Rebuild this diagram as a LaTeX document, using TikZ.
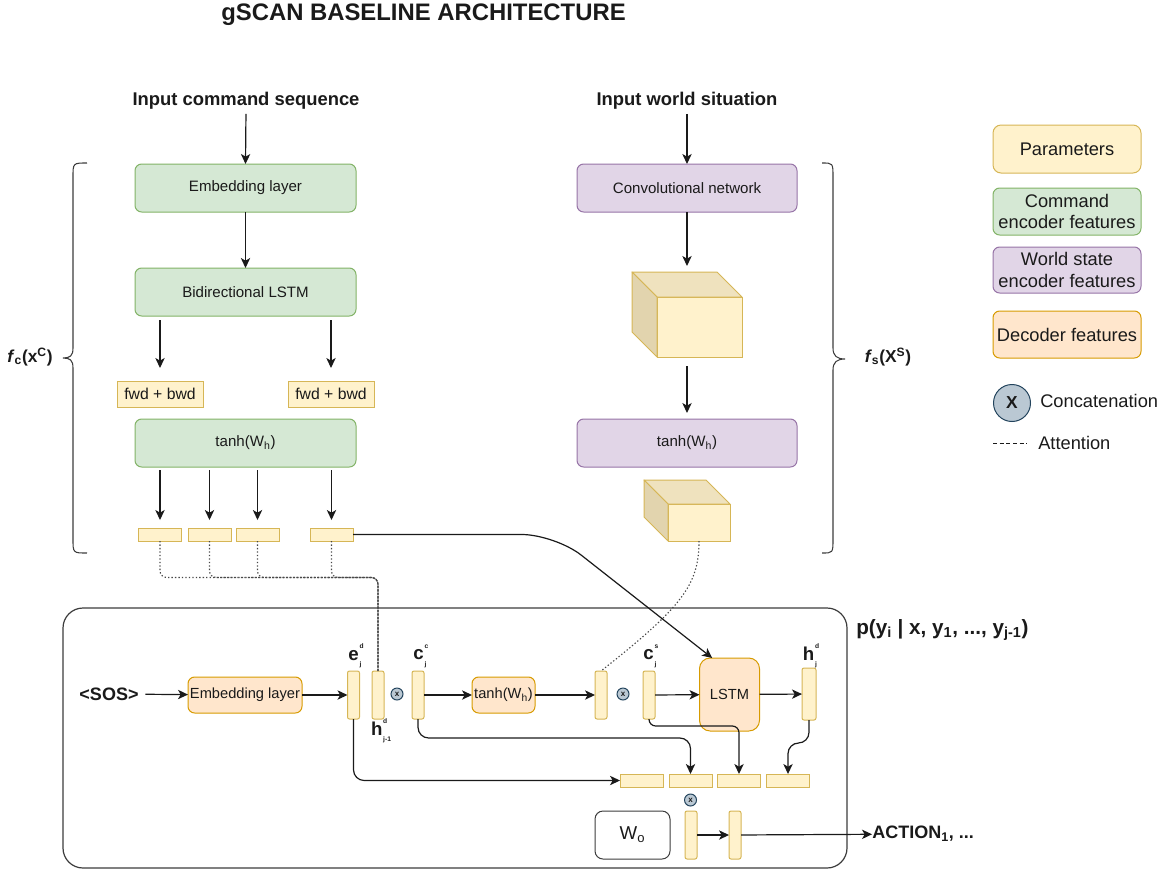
\documentclass[tikz,border=0pt]{standalone}
\usepackage{fontspec}
\setmainfont{Liberation Sans}
\usetikzlibrary{arrows.meta,calc}

\definecolor{ylwF}{HTML}{FFF2CC}\definecolor{ylwD}{HTML}{D6B656}
\definecolor{grnF}{HTML}{D5E8D4}\definecolor{grnD}{HTML}{82B366}
\definecolor{prpF}{HTML}{E1D5E7}\definecolor{prpD}{HTML}{9673A6}
\definecolor{orgF}{HTML}{FFE6CC}\definecolor{orgD}{HTML}{D79B00}
\definecolor{catF}{HTML}{BAC8D3}\definecolor{catD}{HTML}{23445D}
\definecolor{cubeTop}{HTML}{EFE2BE}\definecolor{cubeSide}{HTML}{E2D4AE}
\definecolor{ink}{HTML}{1A1A1A}

\newcommand{\fsz}[2]{\fontsize{#1pt}{#2pt}\selectfont}
% bold letter with a small superscript stacked over a small subscript
\newcommand{\veclab}[3]{\textbf{#1}\kern0.6pt\makebox[0pt][l]{\raisebox{0.62em}{\bfseries\fsz{5}{5}#2}}\raisebox{-0.34em}{\bfseries\fsz{5}{5}#3}}
% top and left faces of a box drawn behind its front face
\newcommand{\cubefaces}[2]{%
  \filldraw[draw=ylwD, fill=cubeTop, line width=0.75pt, line join=round]
    (#1.north west) -- (#1.north east) -- ([shift={(-#2,-#2)}]#1.north east)
    -- ([shift={(-#2,-#2)}]#1.north west) -- cycle;
  \filldraw[draw=ylwD, fill=cubeSide, line width=0.75pt, line join=round]
    (#1.north west) -- ([shift={(-#2,-#2)}]#1.north west)
    -- ([shift={(-#2,-#2)}]#1.south west) -- (#1.south west) -- cycle;}

\tikzset{
  sz/.style 2 args={minimum width=#1*0.75pt, minimum height=#2*0.75pt},
  base/.style={draw, line width=0.75pt, inner sep=0pt, outer sep=0pt, align=center, text=ink},
  gbox/.style={base, fill=grnF, draw=grnD, rounded corners=5pt, font=\fsz{11.3}{13}},
  pbox/.style={base, fill=prpF, draw=prpD, rounded corners=5pt, font=\fsz{11.3}{13}},
  obox/.style={base, fill=orgF, draw=orgD, rounded corners=5pt, font=\fsz{11}{13}},
  ybox/.style={base, fill=ylwF, draw=ylwD},
  vec/.style={ybox, rounded corners=1.5pt, sz={12}{48}},
  hbar/.style={ybox, sz={43}{13}},
  cat/.style={circle, draw=catD, fill=catF, line width=0.75pt, inner sep=0pt,
              minimum size=12*0.75pt, text=ink, font=\bfseries\fsz{6}{6}},
  arr/.style={draw=ink, line width=0.9pt, -{Stealth[length=7.5pt,width=7pt,inset=2pt]}},
  att/.style={draw=ink!80, line width=0.85pt, dash pattern=on 1pt off 1.6pt},
  head/.style={font=\bfseries\fsz{13.8}{16}, text=ink, inner sep=0pt},
  lbl/.style={font=\bfseries\fsz{13}{15}, inner sep=0pt, text=ink},
  legtxt/.style={font=\fsz{13.7}{16}},
}

\begin{document}
\begin{tikzpicture}[x=0.75pt, y=-0.75pt]
\useasboundingbox (0,0) rectangle (1166,875);

% title
\node[font=\bfseries\fsz{17.9}{21}, text=ink, inner sep=0pt] (title) at (423.5,15) {gSCAN BASELINE ARCHITECTURE};

% ---------------- command encoder ----------------
\node[head] (inC) at (246,101) {Input command sequence};
\node[gbox, sz={221}{48}] (emb) at (245.5,188) {Embedding layer};
\node[gbox, sz={221}{48}] (bil) at (245.5,292) {Bidirectional LSTM};
\node[ybox, sz={86}{26}, font=\fsz{11.8}{13}] (fb1) at (160,394) {fwd + bwd};
\node[ybox, sz={86}{26}, font=\fsz{11.8}{13}] (fb2) at (331,394) {fwd + bwd};
\node[gbox, sz={221}{48}] (tc) at (245.5,443) {tanh(W\textsubscript{h})};
\node[hbar] (v1) at (160,534.5) {};
\node[hbar] (v2) at (209.5,534.5) {};
\node[hbar] (v3) at (257.5,534.5) {};
\node[hbar] (v4) at (331.5,534.5) {};

\draw[arr, shorten <=3pt] (inC.south) -- (emb.north);
\draw[arr] (emb) -- (bil);
\draw[arr, shorten <=3pt, shorten >=9.75pt] (bil.south -| fb1) -- (fb1.north);
\draw[arr, shorten <=3pt, shorten >=9.75pt] (bil.south -| fb2) -- (fb2.north);
\foreach \v in {v1,v2,v3,v4}
  \draw[arr, shorten <=2.25pt, shorten >=6pt] (tc.south -| \v) -- (\v.north);

% left brace and its label
\draw[ink!85, line width=0.8pt] (87,163) .. controls (73,163) and (73,163) .. (73,177) -- (73,348)
  .. controls (73,356) and (70,358) .. (63,358) .. controls (70,358) and (73,360) .. (73,368)
  -- (73,539) .. controls (73,553) and (73,553) .. (87,553);
\node[lbl] (fc) at (30,357) {\textit{f}\textsubscript{c}(x\textsuperscript{C})};

% ---------------- world state encoder ----------------
\node[head] (inW) at (687,101) {Input world situation};
\node[pbox, sz={220}{48}] (conv) at (687,188) {Convolutional network};
\node[ybox, sz={85}{60}] (cube1) at (699.5,327) {};
\cubefaces{cube1}{25}
\node[pbox, sz={220}{48}] (ts) at (687,443) {tanh(W\textsubscript{h})};
\node[ybox, sz={62}{37}] (cube2) at (699,522.5) {};
\cubefaces{cube2}{24}

\coordinate (c1b) at ([shift={(-25,-25)}]cube1.north);
\draw[arr, shorten <=3pt] (inW.south) -- (conv.north);
\draw[arr, shorten >=4.5pt] (conv.south) -- (conv.south |- c1b);
\draw[arr, shorten <=7pt, shorten >=4.5pt] (ts.north |- cube1.south) -- (ts.north);

% right brace and its label
\draw[ink!85, line width=0.8pt] (822,163) .. controls (833,163) and (833,163) .. (833,177) -- (833,348)
  .. controls (833,356) and (837,359) .. (845,359) .. controls (837,359) and (833,362) .. (833,370)
  -- (833,539) .. controls (833,553) and (833,553) .. (822,553);
\node[lbl] (fsl) at (888,357) {\textit{f}\textsubscript{s}(X\textsuperscript{S})};

% ---------------- decoder ----------------
\node[base, draw=ink!85, line width=0.9pt, rounded corners=15pt, sz={784}{260}] (dec) at (455,738) {};
\node[lbl, font=\bfseries\fsz{15.5}{18}, anchor=west] (plab) at (856,630)
  {p(y\textsubscript{i} | x, y\textsubscript{1}, ..., y\textsubscript{j-1})};

\node[lbl, font=\bfseries\fsz{13.5}{16}] (sos) at (109,694) {<SOS>};
\node[obox, sz={114}{36}] (demb) at (245,695) {Embedding layer};
\node[vec] (ev) at (353.5,695) {};
\node[vec] (hv) at (378,695) {};
\node[cat] (x1) at (397,694) {x};
\node[vec] (cv) at (418,695) {};
\node[obox, sz={63}{36}] (dt) at (503.5,695) {tanh(W\textsubscript{h})};
\node[vec] (av) at (601,695) {};
\node[cat] (x2) at (623,694) {x};
\node[vec] (sv) at (649,695) {};
\node[obox, sz={60}{73}, rounded corners=8pt] (lstm) at (729.5,694.5) {LSTM};
\node[vec, sz={14}{52}] (hd) at (809,694) {};

\node[lbl, font=\bfseries\fsz{14}{16}] (evl) at (355,656) {\veclab{e}{d}{j}};
\node[lbl, font=\bfseries\fsz{14}{16}] (cvl) at (420,656) {\veclab{c}{c}{j}};
\node[lbl, font=\bfseries\fsz{14}{16}] (svl) at (650,656) {\veclab{c}{s}{j}};
\node[lbl, font=\bfseries\fsz{14}{16}] (hdl) at (810,656) {\veclab{h}{d}{j}};
\node[lbl, font=\bfseries\fsz{14}{16}] (hvl) at (381,731) {\veclab{h}{d}{j-1}};

\node[hbar] (b1) at (641.5,780.5) {};
\node[hbar] (b2) at (690.5,780.5) {};
\node[hbar] (b3) at (739,780.5) {};
\node[hbar] (b4) at (788,780.5) {};
\node[cat] (x3) at (690.5,800) {x};
\node[base, draw=ink!85, fill=white, rounded corners=6pt, sz={75}{48}, font=\fsz{14}{16}] (wo) at (632.5,835) {W\textsubscript{o}};
\node[vec] (o1) at (691,835) {};
\node[vec] (o2) at (735,835) {};
\node[lbl, font=\bfseries\fsz{13.5}{16}, anchor=west] (act) at (872,834) {ACTION\textsubscript{1}, ...};

% decoder flow
\draw[arr, shorten <=5pt] (sos) -- (demb);
\draw[arr] (demb) -- (ev);
\draw[arr] (cv) -- (dt);
\draw[arr] (dt) -- (av);
\draw[arr] (sv) -- (lstm);
\draw[arr] (lstm) -- (hd);
\draw[arr] (o1) -- (o2);
\draw[arr] (o2) -- (act);

\draw[arr, rounded corners=8pt] (ev.south) |- (b1.west);
\draw[arr, rounded corners=8pt] (cv.south) -- ++(0,19) -| (b2.north);
\draw[arr, rounded corners=5pt] (sv.south) -- ++(0,7) -| (b3.north);
\draw[arr, rounded corners=8pt] (hd.south) -- ++(0,23) -| (b4.north);

% attention links
\foreach \v in {v1,v2,v3,v4}
  \draw[att, rounded corners=5pt] (\v.south) -- ++(0,36.5) -| (hv.north);
\draw[att] (cube2.south) .. controls (699,585) and (682,607) .. (av.north);

% encoder state into the decoder LSTM
\coordinate (bend) at (555,534.5);
\draw[arr, rounded corners=25pt] (v4.east) -- (bend) -- ([xshift=-13pt]lstm.north);

% ---------------- legend ----------------
\node[ybox, rounded corners=6pt, sz={148}{48}, legtxt] (lgP) at (1067,149) {Parameters};
\node[gbox, sz={148}{47}, legtxt] (lgC) at (1067,211.5) {Command\\encoder features};
\node[pbox, sz={148}{46}, legtxt] (lgW) at (1067,270) {World state\\encoder features};
\node[obox, sz={148}{47}, legtxt] (lgD) at (1067,334.5) {Decoder features};
\node[cat, minimum size=37*0.75pt, font=\bfseries\fsz{13}{13}] (lgX) at (1012,403) {X};
\node[legtxt, anchor=west, inner sep=0pt, text=ink] (lgXt) at (1040,401) {Concatenation};
\coordinate (lgA1) at (993,443);
\coordinate (lgA2) at (1027,443);
\draw[ink, line width=0.75pt, dash pattern=on 3pt off 2pt] (lgA1) -- (lgA2);
\node[legtxt, anchor=west, inner sep=0pt, text=ink] (lgAt) at (1038,443) {Attention};
\end{tikzpicture}
\end{document}
